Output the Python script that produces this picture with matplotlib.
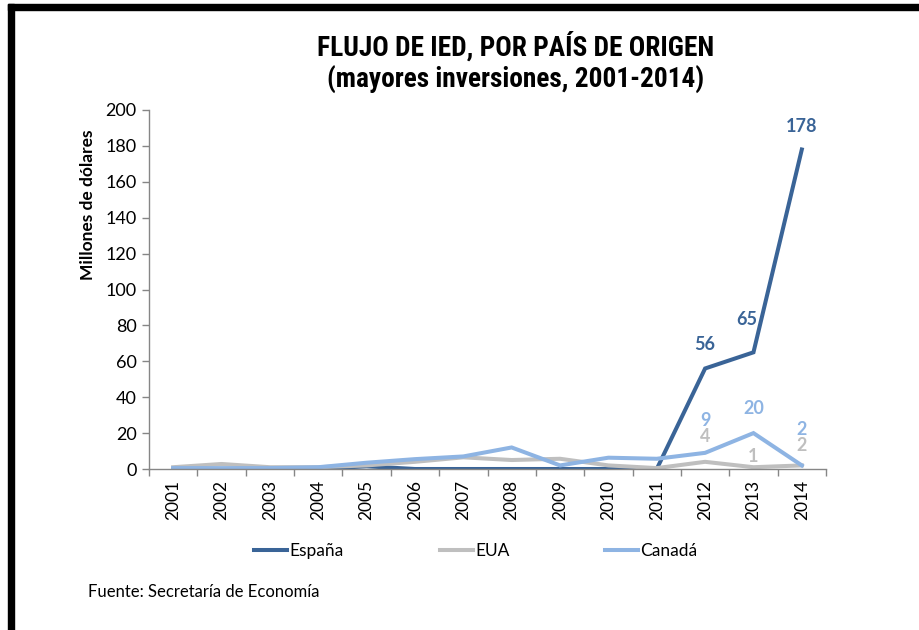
import matplotlib.pyplot as plt
import matplotlib.patches as patches
from matplotlib import font_manager
from matplotlib.ticker import MultipleLocator, FixedLocator, NullFormatter

# Datos (millones de dolares)
anios = ["2001", "2002", "2003", "2004", "2005", "2006", "2007",
         "2008", "2009", "2010", "2011", "2012", "2013", "2014"]
espana = [0, 0, 0, 0, 1.5, 0, 0, 0, 0, 0, 0, 56, 65, 178]
eua = [1, 2.8, 1, 1, 2, 4, 6.5, 5, 5.7, 2, 0.5, 4, 1, 2]
canada = [0.5, 0.5, 0.5, 1, 3.5, 5.5, 7, 12, 2, 6.3, 5.7, 9, 20, 2]

# Etiquetas de datos: (indice, texto, desplazamiento x, y en pixeles)
etiq_espana = [(11, "56", 0, 24), (12, "65", -7, 33), (13, "178", 0, 23)]
etiq_canada = [(11, "9", 0, 32), (12, "20", 0, 25), (13, "2", 0, 36)]
etiq_eua = [(11, "4", 0, 25), (12, "1", 0, 11), (13, "2", 0, 20)]

C_ESP = "#3A6497"
C_EUA = "#BFBFBF"
C_CAN = "#8EB4E3"
GRIS = "#868686"

fuente = ["Lato", "DejaVu Sans"]
plt.rcParams["font.family"] = fuente

# Fuente angosta para el titulo, si hay alguna
nombres = {f.name for f in font_manager.fontManager.ttflist}
titulo_fuente = None
titulo_tam = 19.7
for cand in ["Liberation Sans Narrow", "DejaVu Sans Condensed", "Roboto Condensed",
             "Open Sans Condensed"]:
    if cand in nombres:
        titulo_fuente = [cand, "DejaVu Sans"]
        break
if titulo_fuente is None:
    titulo_fuente = ["Roboto", "DejaVu Sans"]
    titulo_tam = 15.5

fig = plt.figure(figsize=(9.19, 6.3), dpi=100)
W, H = 919, 630
ax = fig.add_axes([149 / W, 1 - 469 / H, (826 - 149) / W, (469 - 110) / H])

x = range(len(anios))
ax.plot(x, espana, color=C_ESP, lw=2.9, label="España", solid_joinstyle="miter")
ax.plot(x, eua, color=C_EUA, lw=2.9, label="EUA", solid_joinstyle="miter")
ax.plot(x, canada, color=C_CAN, lw=2.9, label="Canadá", solid_joinstyle="miter")

ax.set_xlim(-0.5, len(anios) - 0.5)
ax.set_ylim(0, 200)
ax.yaxis.set_major_locator(MultipleLocator(20))

ax.set_xticks(list(x))
ax.set_xticklabels(anios, rotation=90, fontsize=12.5)
ax.tick_params(axis="x", which="major", length=0, pad=8)
ax.xaxis.set_minor_locator(FixedLocator([i - 0.5 for i in range(len(anios) + 1)]))
ax.xaxis.set_minor_formatter(NullFormatter())
ax.tick_params(axis="x", which="minor", length=5, color=GRIS, width=1)
ax.tick_params(axis="y", length=5, color=GRIS, width=1, labelsize=13, pad=4)

for lado in ["top", "right"]:
    ax.spines[lado].set_visible(False)
for lado in ["left", "bottom"]:
    ax.spines[lado].set_color(GRIS)
    ax.spines[lado].set_linewidth(1)

def poner_etiquetas(serie, etiquetas, color):
    for i, txt, dx, dy in etiquetas:
        ax.annotate(txt, (i, serie[i]), xytext=(dx * 0.72, dy * 0.72),
                    textcoords="offset points", ha="center", va="center",
                    fontsize=13, fontweight="bold", color=color)

poner_etiquetas(espana, etiq_espana, C_ESP)
poner_etiquetas(canada, etiq_canada, C_CAN)
poner_etiquetas(eua, etiq_eua, C_EUA)

# Titulo
fig.text(516 / W, 1 - 46 / H, "FLUJO DE IED, POR PAÍS DE ORIGEN", ha="center", va="center",
         fontsize=titulo_tam, fontweight="bold", family=titulo_fuente)
fig.text(516 / W, 1 - 80 / H, "(mayores inversiones, 2001-2014)", ha="center", va="center",
         fontsize=titulo_tam, fontweight="bold", family=titulo_fuente)

# Titulo del eje y
fig.text(88 / W, 1 - 205 / H, "Millones de dólares", rotation=90, ha="center", va="center",
         fontsize=12.5, fontweight="bold")

# Leyenda
ax.legend(loc="center", bbox_to_anchor=(476 / W, 1 - 551 / H), bbox_transform=fig.transFigure,
          ncol=3, frameon=False, fontsize=12.5, handlelength=1.9, handletextpad=0.15,
          columnspacing=5.5)

# Fuente
fig.text(88 / W, 1 - 592 / H, "Fuente: Secretaría de Economía", ha="left", va="center",
         fontsize=12)

# Marco negro (arriba e izquierda)
fig.patches.append(patches.Rectangle((8 / W, 1 - 10 / H), 1 - 8 / W, 6 / H,
                                     transform=fig.transFigure, color="black", zorder=10))
fig.patches.append(patches.Rectangle((8 / W, 0), 6 / W, 1 - 4 / H,
                                     transform=fig.transFigure, color="black", zorder=10))

plt.savefig("out.png", dpi=100)
plt.close()
